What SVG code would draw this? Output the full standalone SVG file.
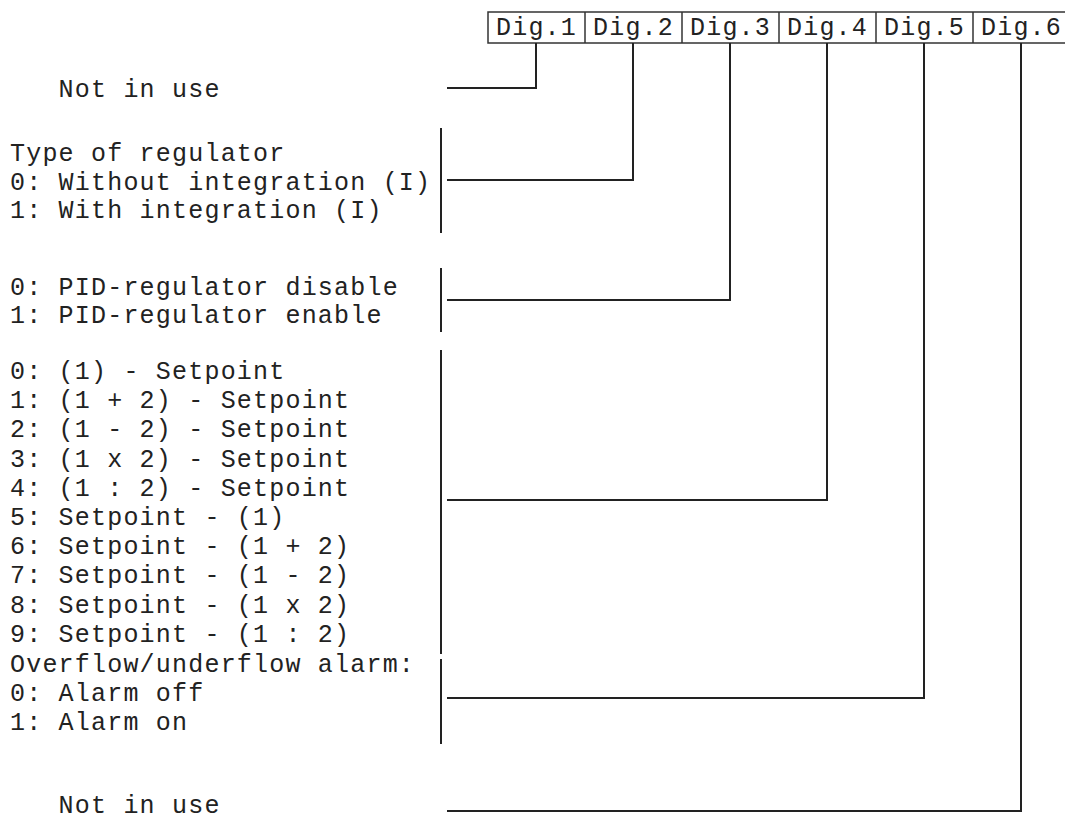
<svg xmlns="http://www.w3.org/2000/svg" width="1065" height="824" viewBox="0 0 1065 824">
<style>
  text { font-family: "Liberation Mono", "DejaVu Sans Mono", monospace; font-size: 25px; letter-spacing: 1.2px; fill: #222; }
  .ln { stroke: #222; stroke-width: 2; fill: none; }
  .box { stroke: #333; stroke-width: 1.5; fill: none; }
</style>
<rect width="1065" height="824" fill="#ffffff"/>
<g id="header">
  <rect class="box" x="488" y="12" width="590" height="31"/>
  <line class="box" x1="585" y1="12" x2="585" y2="43"/>
  <line class="box" x1="682" y1="12" x2="682" y2="43"/>
  <line class="box" x1="779" y1="12" x2="779" y2="43"/>
  <line class="box" x1="876" y1="12" x2="876" y2="43"/>
  <line class="box" x1="973" y1="12" x2="973" y2="43"/>
  <text x="496" y="35">Dig.1</text>
  <text x="593" y="35">Dig.2</text>
  <text x="690" y="35">Dig.3</text>
  <text x="787" y="35">Dig.4</text>
  <text x="884" y="35">Dig.5</text>
  <text x="981" y="35">Dig.6</text>
</g>
<g id="dig1-label">
  <text x="58.6" y="97">Not in use</text>
</g>
<g id="dig2-label">
  <text x="10" y="161">Type of regulator</text>
  <text x="10" y="190">0: Without integration (I)</text>
  <text x="10" y="218">1: With integration (I)</text>
  <line class="ln" x1="441" y1="128" x2="441" y2="233"/>
</g>
<g id="dig3-label">
  <text x="10" y="295">0: PID-regulator disable</text>
  <text x="10" y="323">1: PID-regulator enable</text>
  <line class="ln" x1="441" y1="268" x2="441" y2="332"/>
</g>
<g id="dig4-label">
  <text x="10" y="379">0: (1) - Setpoint</text>
  <text x="10" y="408.2">1: (1 + 2) - Setpoint</text>
  <text x="10" y="437.4">2: (1 - 2) - Setpoint</text>
  <text x="10" y="466.6">3: (1 x 2) - Setpoint</text>
  <text x="10" y="495.8">4: (1 : 2) - Setpoint</text>
  <text x="10" y="525">5: Setpoint - (1)</text>
  <text x="10" y="554.2">6: Setpoint - (1 + 2)</text>
  <text x="10" y="583.4">7: Setpoint - (1 - 2)</text>
  <text x="10" y="612.6">8: Setpoint - (1 x 2)</text>
  <text x="10" y="641.8">9: Setpoint - (1 : 2)</text>
  <line class="ln" x1="441" y1="350" x2="441" y2="654"/>
</g>
<g id="dig5-label">
  <text x="10" y="672">Overflow/underflow alarm:</text>
  <text x="10" y="701">0: Alarm off</text>
  <text x="10" y="730">1: Alarm on</text>
  <line class="ln" x1="441" y1="659" x2="441" y2="744"/>
</g>
<g id="dig6-label">
  <text x="58.6" y="813">Not in use</text>
</g>
<g id="connectors">
  <polyline class="ln" points="447,88 536,88 536,43"/>
  <polyline class="ln" points="447,180 633,180 633,43"/>
  <polyline class="ln" points="447,300 730,300 730,43"/>
  <polyline class="ln" points="447,500 827,500 827,43"/>
  <polyline class="ln" points="447,698 924,698 924,43"/>
  <polyline class="ln" points="447,811 1021,811 1021,43"/>
</g>
</svg>
